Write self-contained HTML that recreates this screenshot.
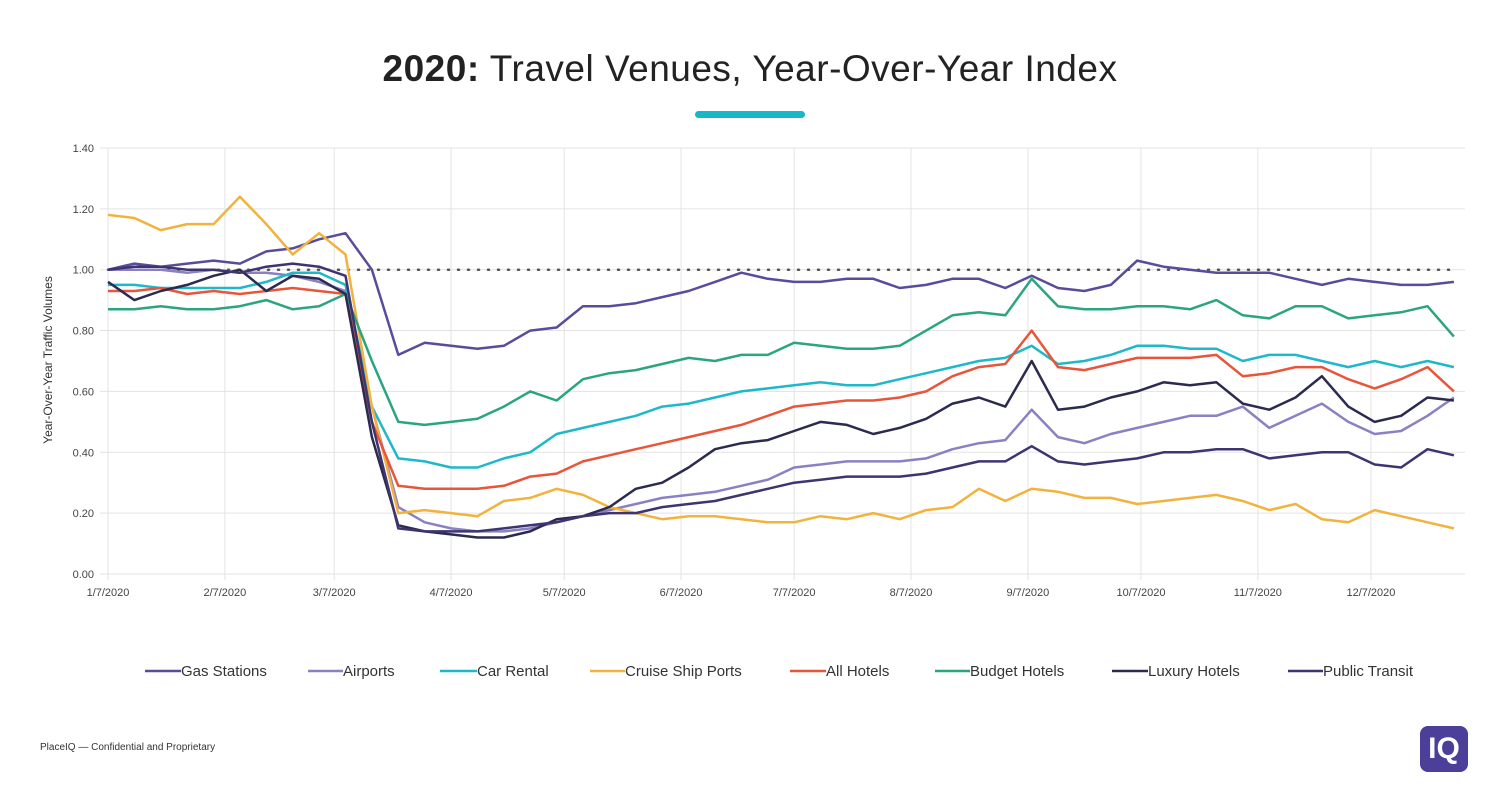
<!DOCTYPE html>
<html><head><meta charset="utf-8"><style>
body{margin:0;background:#fff;width:1500px;height:799px;overflow:hidden;font-family:"Liberation Sans",sans-serif}
#title{position:absolute;top:48px;left:0;width:1500px;text-align:center;font-size:37px;color:#222;letter-spacing:0.5px}
#bar{position:absolute;left:695px;top:111px;width:110px;height:7px;border-radius:4px;background:#17b6c8}
#foot{position:absolute;left:40px;top:742px;font-size:10px;color:#333}
#logo{position:absolute;left:1420px;top:726px;width:48px;height:46px;border-radius:8px;background:#4b3f9a;color:#fff;font-weight:bold;font-size:30px;text-align:center;line-height:46px}
</style></head><body>
<div id="title"><b>2020:</b> Travel Venues, Year-Over-Year Index</div>
<div id="bar"></div>
<svg id="chart" width="1500" height="799" style="position:absolute;left:0;top:0"></svg>
<div id="foot">PlaceIQ — Confidential and Proprietary</div>
<div id="logo">IQ</div>
<script>
const xTickLabels=["1/7/2020","2/7/2020","3/7/2020","4/7/2020","5/7/2020","6/7/2020","7/7/2020","8/7/2020","9/7/2020","10/7/2020","11/7/2020","12/7/2020"];
const xTickDays=[0,31,60,91,121,152,182,213,244,274,305,335];
const yTicks=[0,0.2,0.4,0.6,0.8,1.0,1.2,1.4];
const seriesNames=["Gas Stations","Airports","Car Rental","Cruise Ship Ports","All Hotels","Budget Hotels","Luxury Hotels","Public Transit"];
const gas=[1.00,1.02,1.01,1.02,1.03,1.02,1.06,1.07,1.10,1.12,1.00,0.72,0.76,0.75,0.74,0.75,0.80,0.81,0.88,0.88,0.89,0.91,0.93,0.96,0.99,0.97,0.96,0.96,0.97,0.97,0.94,0.95,0.97,0.97,0.94,0.98,0.94,0.93,0.95,1.03,1.01,1.00,0.99,0.99,0.99,0.97,0.95,0.97,0.96,0.95,0.95,0.96];
const airports=[1.00,1.00,1.00,0.99,1.00,0.99,0.99,0.98,0.96,0.93,0.55,0.22,0.17,0.15,0.14,0.14,0.15,0.17,0.19,0.21,0.23,0.25,0.26,0.27,0.29,0.31,0.35,0.36,0.37,0.37,0.37,0.38,0.41,0.43,0.44,0.54,0.45,0.43,0.46,0.48,0.50,0.52,0.52,0.55,0.48,0.52,0.56,0.50,0.46,0.47,0.52,0.58];
const carRental=[0.95,0.95,0.94,0.94,0.94,0.94,0.96,0.99,0.99,0.95,0.55,0.38,0.37,0.35,0.35,0.38,0.40,0.46,0.48,0.50,0.52,0.55,0.56,0.58,0.60,0.61,0.62,0.63,0.62,0.62,0.64,0.66,0.68,0.70,0.71,0.75,0.69,0.70,0.72,0.75,0.75,0.74,0.74,0.70,0.72,0.72,0.70,0.68,0.70,0.68,0.70,0.68];
const cruise=[1.18,1.17,1.13,1.15,1.15,1.24,1.15,1.05,1.12,1.05,0.55,0.20,0.21,0.20,0.19,0.24,0.25,0.28,0.26,0.22,0.20,0.18,0.19,0.19,0.18,0.17,0.17,0.19,0.18,0.20,0.18,0.21,0.22,0.28,0.24,0.28,0.27,0.25,0.25,0.23,0.24,0.25,0.26,0.24,0.21,0.23,0.18,0.17,0.21,0.19,0.17,0.15];
const allHotels=[0.93,0.93,0.94,0.92,0.93,0.92,0.93,0.94,0.93,0.92,0.50,0.29,0.28,0.28,0.28,0.29,0.32,0.33,0.37,0.39,0.41,0.43,0.45,0.47,0.49,0.52,0.55,0.56,0.57,0.57,0.58,0.60,0.65,0.68,0.69,0.80,0.68,0.67,0.69,0.71,0.71,0.71,0.72,0.65,0.66,0.68,0.68,0.64,0.61,0.64,0.68,0.60];
const budget=[0.87,0.87,0.88,0.87,0.87,0.88,0.90,0.87,0.88,0.92,0.70,0.50,0.49,0.50,0.51,0.55,0.60,0.57,0.64,0.66,0.67,0.69,0.71,0.70,0.72,0.72,0.76,0.75,0.74,0.74,0.75,0.80,0.85,0.86,0.85,0.97,0.88,0.87,0.87,0.88,0.88,0.87,0.90,0.85,0.84,0.88,0.88,0.84,0.85,0.86,0.88,0.78];
const luxury=[0.96,0.90,0.93,0.95,0.98,1.00,0.93,0.98,0.97,0.92,0.45,0.16,0.14,0.13,0.12,0.12,0.14,0.18,0.19,0.22,0.28,0.30,0.35,0.41,0.43,0.44,0.47,0.50,0.49,0.46,0.48,0.51,0.56,0.58,0.55,0.70,0.54,0.55,0.58,0.60,0.63,0.62,0.63,0.56,0.54,0.58,0.65,0.55,0.50,0.52,0.58,0.57];
const transit=[1.00,1.01,1.01,1.00,1.00,0.99,1.01,1.02,1.01,0.98,0.50,0.15,0.14,0.14,0.14,0.15,0.16,0.17,0.19,0.20,0.20,0.22,0.23,0.24,0.26,0.28,0.30,0.31,0.32,0.32,0.32,0.33,0.35,0.37,0.37,0.42,0.37,0.36,0.37,0.38,0.40,0.40,0.41,0.41,0.38,0.39,0.40,0.40,0.36,0.35,0.41,0.39];
const series=[gas,airports,carRental,cruise,allHotels,budget,luxury,transit];
const colors=["#5a4b9b","#8b80c2","#1fb8c9","#f2b33d","#e8553a","#2aa57f","#2b2a4f","#3d3470"];
const X0=108,PXD=3.77,Y0=574,PXV=304.3;
const xs=d=>X0+d*PXD, ys=v=>Y0-v*PXV;
const svg=document.getElementById('chart');const NS="http://www.w3.org/2000/svg";
function mk(t,a){const e=document.createElementNS(NS,t);for(const k in a)e.setAttribute(k,a[k]);svg.appendChild(e);return e;}
yTicks.forEach(v=>{
 const l=mk('line',{x1:100,x2:1465,y1:ys(v),y2:ys(v),stroke:'#e3e3e3','stroke-width':1});
 
 
 const t=mk('text',{x:94,y:ys(v)+4,'text-anchor':'end','font-size':11,fill:'#444'});t.textContent=v.toFixed(2);
 
 
});
xTickDays.forEach((d,i)=>{
 const l=mk('line',{x1:xs(d),x2:xs(d),y1:148,y2:580,stroke:'#e3e3e3','stroke-width':1});
 
 
 const t=mk('text',{x:xs(d),y:596,'text-anchor':'middle','font-size':11,fill:'#444'});t.textContent=xTickLabels[i];
 
 
});
const ref=mk('line',{x1:xs(0),x2:xs(358),y1:ys(1),y2:ys(1),stroke:'#555','stroke-width':2.5,'stroke-dasharray':'1 9','stroke-linecap':'round'});


const yl=mk('text',{x:0,y:0,transform:'translate(52,360) rotate(-90)','text-anchor':'middle','font-size':12,fill:'#333'});yl.textContent='Year-Over-Year Traffic Volumes';


series.forEach((s,k)=>{
 const pts=s.map((v,i)=>xs(i*7).toFixed(1)+','+ys(v).toFixed(1)).join(' ');
 const p=mk('polyline',{points:pts,fill:'none',stroke:colors[k],'stroke-width':2.5,'stroke-linejoin':'round'});
 
 
});
const legX=[145,308,440,590,790,935,1112,1288];
const legT=[181,343,477,625,826,970,1148,1323];
seriesNames.forEach((n,k)=>{
 const l=mk('line',{x1:legX[k],x2:legT[k],y1:671,y2:671,stroke:colors[k],'stroke-width':2.5});
 
 
 const t=mk('text',{x:legT[k],y:676,'font-size':15,fill:'#333'});t.textContent=n;
 
 
});
</script>
</body></html>
